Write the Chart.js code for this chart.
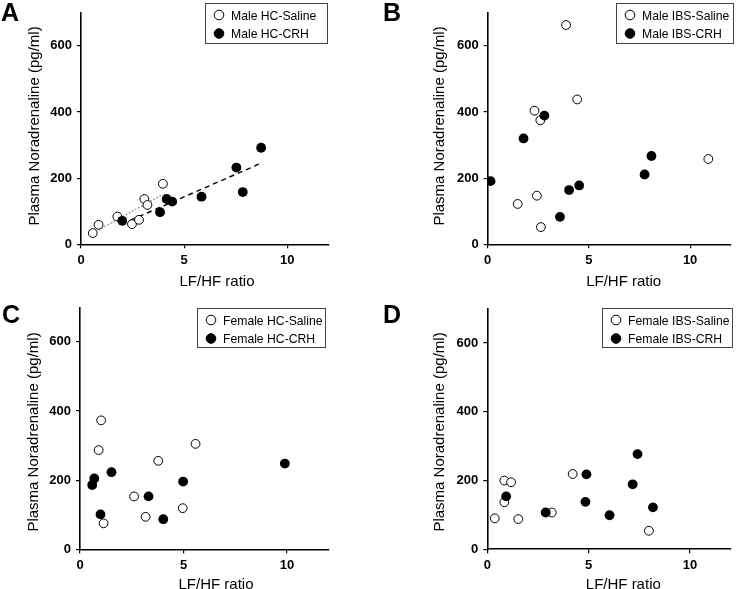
<!DOCTYPE html>
<html>
<head>
<meta charset="utf-8">
<script src="https://cdn.jsdelivr.net/npm/chart.js@4.4.1/dist/chart.umd.min.js"></script>
<style>
  body { margin: 0; background: #fff; }
  #wrap { position: relative; width: 736px; height: 589px; overflow: hidden; }
  canvas { position: absolute; }
</style>
</head>
<body>
<div id="wrap">
  <canvas id="chartA" width="368" height="294" style="left:0;top:0"></canvas>
  <canvas id="chartB" width="368" height="294" style="left:368px;top:0"></canvas>
  <canvas id="chartC" width="368" height="295" style="left:0;top:294px"></canvas>
  <canvas id="chartD" width="368" height="295" style="left:368px;top:294px"></canvas>
</div>
<script>
'use strict';

// axis ticks
const xTicks = [0, 5, 10];
const yTicks = [0, 200, 400, 600];
const xTitle = 'LF/HF ratio';
const yTitle = 'Plasma Noradrenaline (pg/ml)';

// A - male HC
const maleHcSalineLF = [0.57, 0.85, 1.76, 2.47, 2.81, 3.07, 3.22, 3.97];
const maleHcSalineNA = [34, 59, 84, 61, 74, 137, 119, 183];
const maleHcCrhLF = [2.0, 3.83, 4.15, 4.42, 5.84, 7.53, 7.84, 8.73];
const maleHcCrhNA = [71, 97, 137, 129, 144, 232, 158, 292];
// trend lines (start / end)
const maleHcSalineTrendLF = [0.54, 3.97];
const maleHcSalineTrendNA = [33, 151];
const maleHcCrhTrendLF = [2.0, 8.65];
const maleHcCrhTrendNA = [62, 243];

// B - male IBS
const maleIbsSalineLF = [3.87, 4.42, 2.31, 2.6, 2.43, 1.48, 2.63, 10.9];
const maleIbsSalineNA = [663, 438, 404, 375, 147, 122, 52, 258];
const maleIbsCrhLF = [0.14, 1.77, 2.8, 3.57, 4.02, 4.52, 7.75, 8.09];
const maleIbsCrhNA = [191, 320, 389, 83, 164, 178, 211, 267];

// C - female HC
const femaleHcSalineLF = [1.02, 0.9, 2.61, 3.78, 5.58, 3.17, 4.96, 1.14];
const femaleHcSalineNA = [373, 287, 153, 256, 305, 94, 119, 75];
const femaleHcCrhLF = [0.69, 0.59, 0.99, 1.52, 3.31, 4.02, 4.98, 9.89];
const femaleHcCrhNA = [205, 186, 101, 223, 153, 87, 196, 248];

// D - female IBS
const femaleIbsSalineLF = [0.37, 0.84, 1.17, 0.84, 1.53, 3.18, 4.21, 7.97];
const femaleIbsSalineNA = [90, 200, 195, 137, 88, 107, 219, 54];
const femaleIbsCrhLF = [0.93, 2.88, 4.89, 4.84, 6.03, 7.17, 7.41, 8.17];
const femaleIbsCrhNA = [154, 107, 218, 138, 99, 189, 277, 122];

const FONT = '"Liberation Sans", Arial, Helvetica, sans-serif';

function toPoints(xs, ys) {
  let pts = [];
  for (let i = 0; i < xs.length; i++) {
    pts.push({ x: xs[i], y: ys[i] });
  }
  return pts;
}

function salineSet(label, xs, ys) {
  return {
    label: label,
    data: toPoints(xs, ys),
    backgroundColor: '#fff',
    borderColor: '#000',
    borderWidth: 1,
    pointRadius: 4.4,
    order: 1
  };
}
function crhSet(label, xs, ys) {
  return {
    label: label,
    data: toPoints(xs, ys),
    backgroundColor: '#000',
    borderColor: '#000',
    borderWidth: 0,
    pointRadius: 4.9,
    order: 0
  };
}
function trendSet(xs, ys, color, dash) {
  return {
    type: 'line',
    label: '',
    legendHidden: true,
    data: toPoints(xs, ys),
    borderColor: color,
    borderWidth: 1.4,
    borderDash: dash,
    pointRadius: 0,
    fill: false,
    order: 2
  };
}

// draws panel letter, axis titles and the boxed legend
const panelDeco = {
  id: 'panelDeco',
  afterDraw(chart, args, o) {
    const ctx = chart.ctx;
    ctx.save();
    ctx.fillStyle = '#000';
    ctx.font = 'bold 25px ' + FONT;
    ctx.textBaseline = 'alphabetic';
    ctx.textAlign = 'left';
    ctx.fillText(o.letter, o.letterX, o.letterY);

    ctx.font = '15px ' + FONT;
    ctx.textAlign = 'center';
    ctx.textBaseline = 'middle';
    ctx.fillText(xTitle, o.xTitleX, o.xTitleY);
    ctx.save();
    ctx.translate(o.yTitleX, o.yTitleY);
    ctx.rotate(-Math.PI / 2);
    ctx.fillText(yTitle, 0, 0);
    ctx.restore();

    const lg = o.legend;
    ctx.strokeStyle = '#444';
    ctx.lineWidth = 1;
    ctx.strokeRect(lg.x + 0.5, lg.y + 0.5, lg.w, lg.h);
    ctx.font = '12.2px ' + FONT;
    ctx.textAlign = 'left';
    let row = 0;
    chart.data.datasets.forEach(ds => {
      if (ds.legendHidden) return;
      const cy = lg.y + 12 + row * 18.5;
      ctx.beginPath();
      ctx.arc(lg.x + 14, cy, 4.8, 0, Math.PI * 2);
      ctx.fillStyle = ds.backgroundColor;
      ctx.fill();
      ctx.strokeStyle = '#000';
      ctx.lineWidth = 1;
      ctx.stroke();
      ctx.fillStyle = '#000';
      ctx.fillText(ds.label, lg.x + 26, cy + 1.5);
      row++;
    });
    ctx.restore();
  }
};

function makePanel(id, datasets, yW, xH, pad, deco) {
  const ctx = document.getElementById(id).getContext('2d');
  return new Chart(ctx, {
    type: 'scatter',
    data: { datasets: datasets },
    options: {
      responsive: false,
      animation: false,
      devicePixelRatio: 1,
      layout: { padding: pad },
      plugins: {
        legend: { display: false },
        tooltip: { enabled: false },
        panelDeco: deco
      },
      scales: {
        x: {
          type: 'linear',
          min: 0,
          max: 12,
          afterBuildTicks: s => { s.ticks = xTicks.map(v => ({ value: v })); },
          afterFit: s => { s.height = xH; },
          ticks: {
            color: '#000',
            font: { family: FONT, size: 13, weight: 'bold' },
            padding: 4,
            maxRotation: 0
          },
          grid: { drawOnChartArea: false, drawTicks: true, tickLength: 4, color: '#000', lineWidth: 1.2 },
          border: { display: true, color: '#000', width: 1.6 }
        },
        y: {
          type: 'linear',
          min: 0,
          max: 700,
          afterBuildTicks: s => { s.ticks = yTicks.map(v => ({ value: v })); },
          afterFit: s => { s.width = yW; },
          ticks: {
            color: '#000',
            font: { family: FONT, size: 13, weight: 'bold' },
            padding: 5
          },
          grid: { drawOnChartArea: false, drawTicks: true, tickLength: 4, color: '#000', lineWidth: 1.2 },
          border: { display: true, color: '#000', width: 1.6 }
        }
      }
    },
    plugins: [panelDeco]
  });
}

makePanel('chartA', [
  salineSet('Male HC-Saline', maleHcSalineLF, maleHcSalineNA),
  crhSet('Male HC-CRH', maleHcCrhLF, maleHcCrhNA),
  trendSet(maleHcSalineTrendLF, maleHcSalineTrendNA, '#8a8a8a', [1.5, 2]),
  trendSet(maleHcCrhTrendLF, maleHcCrhTrendNA, '#000', [5, 4])
], 81, 49.7, { left: 0, right: 39.4, top: 3.5, bottom: 0 }, {
  letter: 'A', letterX: 1, letterY: 21,
  xTitleX: 217, xTitleY: 281.5, yTitleX: 35, yTitleY: 126,
  legend: { x: 205, y: 3, w: 122, h: 40 }
});

makePanel('chartB', [
  salineSet('Male IBS-Saline', maleIbsSalineLF, maleIbsSalineNA),
  crhSet('Male IBS-CRH', maleIbsCrhLF, maleIbsCrhNA)
], 119.7, 49.7, { left: 0, right: 1, top: 3.5, bottom: 0 }, {
  letter: 'B', letterX: 15, letterY: 21,
  xTitleX: 255.7, xTitleY: 281.5, yTitleX: 72, yTitleY: 126,
  legend: { x: 248, y: 3, w: 117, h: 40 }
});

makePanel('chartC', [
  salineSet('Female HC-Saline', femaleHcSalineLF, femaleHcSalineNA),
  crhSet('Female HC-CRH', femaleHcCrhLF, femaleHcCrhNA)
], 80, 39.7, { left: 0, right: 39.5, top: 13.3, bottom: 0 }, {
  letter: 'C', letterX: 2, letterY: 29,
  xTitleX: 216, xTitleY: 291, yTitleX: 34, yTitleY: 138,
  legend: { x: 197, y: 14, w: 128, h: 39 }
});

makePanel('chartD', [
  salineSet('Female IBS-Saline', femaleIbsSalineLF, femaleIbsSalineNA),
  crhSet('Female IBS-CRH', femaleIbsCrhLF, femaleIbsCrhNA)
], 119.3, 39.7, { left: 0, right: 0, top: 14.7, bottom: 0 }, {
  letter: 'D', letterX: 15, letterY: 29,
  xTitleX: 255.3, xTitleY: 291, yTitleX: 72, yTitleY: 138,
  legend: { x: 234, y: 14, w: 130, h: 39 }
});
</script>
</body>
</html>
